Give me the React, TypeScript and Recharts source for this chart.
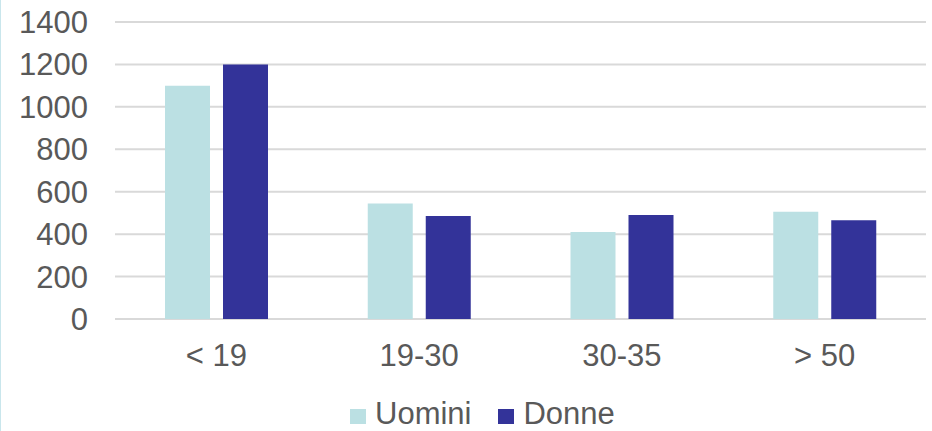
import { BarChart, Bar, XAxis, YAxis, CartesianGrid, Legend } from 'recharts'

const fasceEta = ['< 19', '19-30', '30-35', '> 50']
const uomini = [1100, 545, 410, 505]
const donne = [1200, 485, 490, 465]
const tickY = [0, 200, 400, 600, 800, 1000, 1200, 1400]

const serie = [
  { key: 'uomini', nome: 'Uomini', colore: '#bbe0e3' },
  { key: 'donne', nome: 'Donne', colore: '#333399' },
]

const dati = fasceEta.map((fascia, i) => ({
  fascia,
  uomini: uomini[i],
  donne: donne[i],
}))

const testo = '#595959'
const font = '"Liberation Sans", Arial, sans-serif'

// legenda con quadratini, allineata a sinistra dentro il suo box
function LegendaQuadrati() {
  return (
    <div style={{ display: 'flex', alignItems: 'center', fontFamily: font }}>
      {serie.map((s, i) => (
        <div key={s.key} style={{ display: 'flex', alignItems: 'center', marginLeft: i ? 27 : 0 }}>
          <span style={{ width: 16, height: 15, background: s.colore, display: 'inline-block', marginRight: 9, marginTop: 4 }} />
          <span style={{ fontSize: 31, color: testo, lineHeight: 'normal' }}>{s.nome}</span>
        </div>
      ))}
    </div>
  )
}

export default function App() {
  return (
    <div style={{ position: 'absolute', left: 0, top: 0, width: 932, height: 431, background: '#fff', overflow: 'hidden' }}>
      <div style={{ position: 'absolute', left: 0, top: 0, width: 1, height: 431, background: '#c9e6ec' }} />
      <BarChart
        width={932}
        height={431}
        data={dati}
        margin={{ top: 22, right: 6, left: 0, bottom: 0 }}
        barSize={45}
        barGap={13}
      >
        <CartesianGrid vertical={false} stroke="#d9d9d9" strokeWidth={2} />
        <XAxis
          dataKey="fascia"
          axisLine={false}
          tickLine={false}
          tickSize={0}
          tickMargin={25}
          height={112}
          tick={{ fontSize: 31, fill: testo, fontFamily: font }}
        />
        <YAxis
          domain={[0, 1400]}
          ticks={tickY}
          width={115}
          axisLine={false}
          tickLine={false}
          tickSize={0}
          tickMargin={27}
          tick={{ fontSize: 31, fill: testo, fontFamily: font }}
        />
        <Legend
          verticalAlign="middle"
          align="center"
          layout="horizontal"
          content={<LegendaQuadrati />}
          wrapperStyle={{ top: 396, left: 350, width: 300 }}
        />
        {serie.map(s => (
          <Bar key={s.key} dataKey={s.key} name={s.nome} fill={s.colore} isAnimationActive={false} />
        ))}
      </BarChart>
    </div>
  )
}
